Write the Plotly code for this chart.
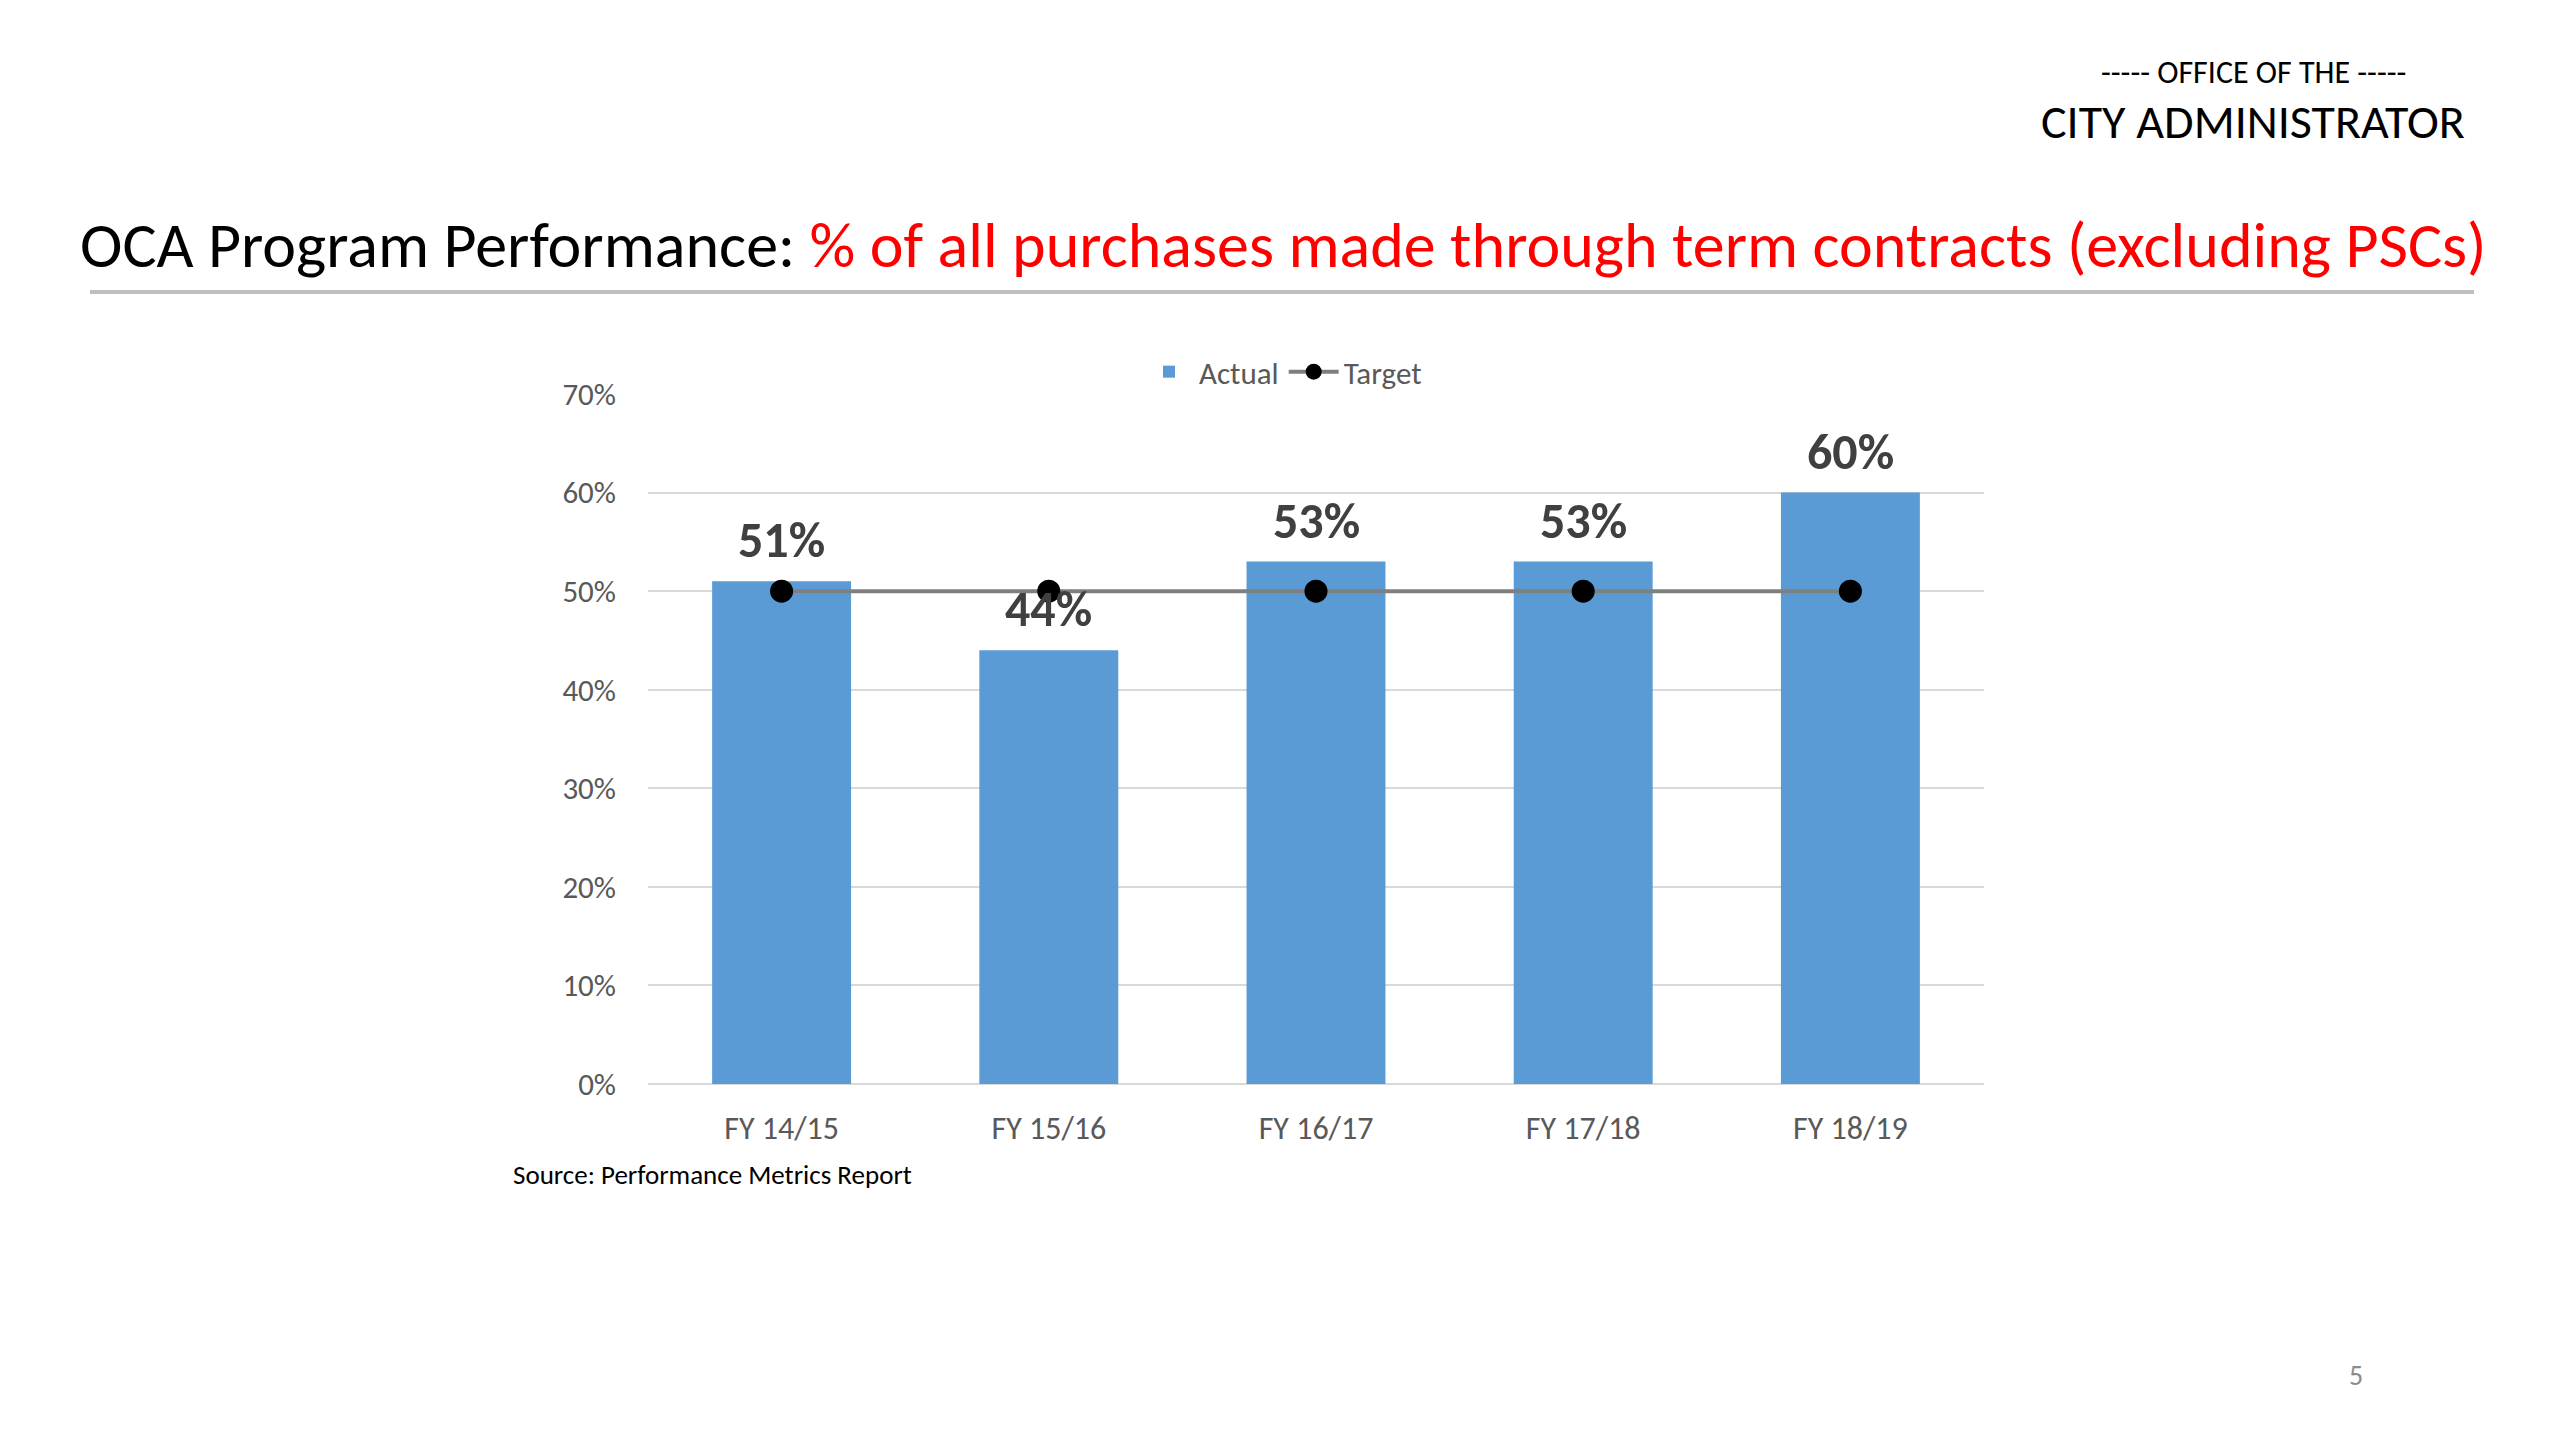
import plotly.graph_objects as go

categories = ["FY 14/15", "FY 15/16", "FY 16/17", "FY 17/18", "FY 18/19"]
actual = [0.51, 0.44, 0.53, 0.53, 0.60]
target = [0.50, 0.50, 0.50, 0.50, 0.50]
actual_labels = ["51%", "44%", "53%", "53%", "60%"]
y_ticks = [0, 0.1, 0.2, 0.3, 0.4, 0.5, 0.6, 0.7]
y_tick_labels = ["0%", "10%", "20%", "30%", "40%", "50%", "60%", "70%"]

FONT = "Carlito, Lato, sans-serif"
W, H = 2560, 1440
PL, PR, PT, PB = 648, 1984, 394, 1084


def px(xp):
    return (xp - PL) / (PR - PL)


def py(yp):
    return (PB - yp) / (PB - PT)


fig = go.Figure()
fig.add_trace(go.Bar(
    x=categories, y=actual, name="Actual",
    marker=dict(color="#5b9bd5", line=dict(width=0)),
))
fig.add_trace(go.Scatter(
    x=categories, y=target, name="Target", mode="lines+markers",
    line=dict(color="#7f7f7f", width=4),
    marker=dict(color="black", size=23),
))

annotations = []
for c, v, t in zip(categories, actual, actual_labels):
    annotations.append(dict(
        x=c, y=v, xref="x", yref="y", text="<b>%s</b>" % t,
        showarrow=False, yanchor="bottom", yshift=9,
        font=dict(family=FONT, size=50, color="#404040"),
    ))

annotations += [
    dict(xref="paper", yref="paper", x=px(2253), y=py(72),
         xanchor="center", yanchor="middle", showarrow=False,
         text="----- OFFICE OF THE -----",
         font=dict(family=FONT, size=32, color="#000000")),
    dict(xref="paper", yref="paper", x=px(2253), y=py(121),
         xanchor="center", yanchor="middle", showarrow=False,
         text="CITY ADMINISTRATOR",
         font=dict(family=FONT, size=48, color="#000000")),
    dict(xref="paper", yref="paper", x=px(78), y=py(245),
         xanchor="left", yanchor="middle", showarrow=False,
         text="OCA Program Performance: <span style='color:#ff0000'>% of all purchases made through term contracts (excluding PSCs)</span>",
         font=dict(family=FONT, size=64, color="#000000")),
    dict(xref="paper", yref="paper", x=px(511), y=py(1174),
         xanchor="left", yanchor="middle", showarrow=False,
         text="Source: Performance Metrics Report",
         font=dict(family=FONT, size=27, color="#000000")),
    dict(xref="paper", yref="paper", x=px(2356), y=py(1375),
         xanchor="center", yanchor="middle", showarrow=False,
         text="5",
         font=dict(family=FONT, size=28, color="#8c8c8c")),
]

fig.update_layout(
    width=W, height=H, autosize=False,
    paper_bgcolor="white", plot_bgcolor="white",
    margin=dict(l=PL, r=W - PR, t=PT, b=H - PB, pad=0, autoexpand=False),
    bargap=0.48,
    font=dict(family=FONT, size=31, color="#595959"),
    showlegend=True,
    legend=dict(orientation="h", xref="paper", yref="paper",
                x=px(1283), y=py(372), xanchor="center", yanchor="middle",
                font=dict(family=FONT, size=31, color="#595959"),
                bgcolor="rgba(0,0,0,0)", itemsizing="trace", itemwidth=50),
    annotations=annotations,
    shapes=[dict(type="line", xref="paper", yref="paper",
                 x0=px(90), x1=px(2474), y0=py(292), y1=py(292),
                 line=dict(color="#bfbfbf", width=4))],
)
fig.update_xaxes(range=[-0.5, 4.5], showgrid=False, showline=False, zeroline=False,
                 ticks="", ticklabelstandoff=22,
                 tickfont=dict(family=FONT, size=32, color="#595959"))
fig.update_yaxes(range=[0, 0.7], tickvals=y_ticks, ticktext=y_tick_labels,
                 showgrid=True, gridcolor="#d9d9d9", gridwidth=2,
                 zeroline=True, zerolinecolor="#d9d9d9", zerolinewidth=2,
                 showline=False, ticks="", ticklabelstandoff=31,
                 tickfont=dict(family=FONT, size=31, color="#595959"))

fig.write_html("out.html", config={"displayModeBar": False},
               post_script="document.body.style.margin='0';")
